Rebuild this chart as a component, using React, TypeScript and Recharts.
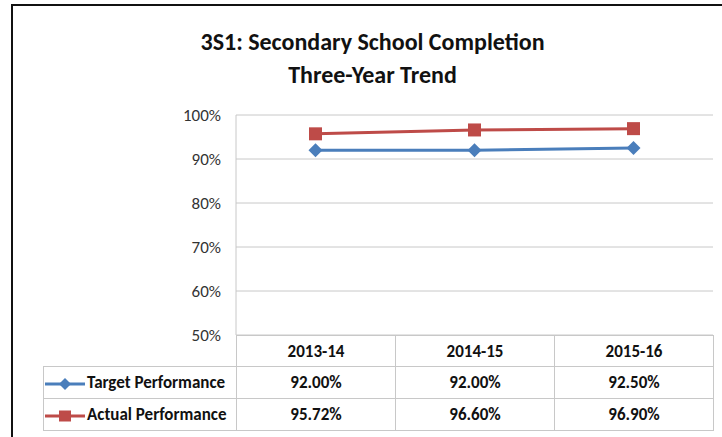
import { LineChart, Line, XAxis, YAxis, CartesianGrid } from 'recharts';

const categories = ['2013-14', '2014-15', '2015-16'];
const targetValues = [92.0, 92.0, 92.5];
const actualValues = [95.72, 96.6, 96.9];
const yTicks = [50, 60, 70, 80, 90, 100];

const seriesNames = { target: 'Target Performance', actual: 'Actual Performance' };

const data = categories.map((year, i) => ({
  year,
  target: targetValues[i],
  actual: actualValues[i],
}));

const FONT = "Carlito, 'Liberation Sans Narrow', Lato, 'Open Sans', sans-serif";
const BLUE = '#4a7ebb';
const RED = '#be4b48';
const GRID = '#c8c8c8';

const Diamond = (props: any) => {
  const { cx, cy } = props;
  if (cx == null || cy == null) return null;
  const r = 7;
  return <path d={`M${cx},${cy - r}L${cx + r},${cy}L${cx},${cy + r}L${cx - r},${cy}Z`} fill={BLUE} />;
};

const Square = (props: any) => {
  const { cx, cy } = props;
  if (cx == null || cy == null) return null;
  const s = 6.5;
  return <rect x={cx - s} y={cy - s} width={s * 2} height={s * 2} fill={RED} />;
};

const LegendKey = ({ kind }: { kind: 'target' | 'actual' }) => (
  <svg width={42} height={14} style={{ verticalAlign: 'middle', marginRight: 1 }}>
    <line x1={1} y1={7} x2={41} y2={7} stroke={kind === 'target' ? BLUE : RED} strokeWidth={3} />
    {kind === 'target'
      ? <path d="M21,1L27,7L21,13L15,7Z" fill={BLUE} />
      : <rect x={15} y={1.5} width={12} height={11} fill={RED} />}
  </svg>
);

const fmt = (v: number) => `${v.toFixed(2)}%`;

const cell: any = {
  border: `1px solid ${GRID}`,
  textAlign: 'center',
  fontWeight: 'bold',
  fontSize: 17,
  padding: 0,
  color: '#111',
  whiteSpace: 'nowrap',
  overflow: 'hidden',
};

const App = () => {
  return (
    <div style={{ position: 'absolute', left: 0, top: 0, width: 722, height: 437, background: '#fff', fontFamily: FONT, overflow: 'hidden' }}>
      <div style={{ position: 'absolute', left: 11, top: 4, width: 711, height: 2, background: '#111' }} />
      <div style={{ position: 'absolute', left: 11, top: 4, width: 2, height: 433, background: '#111' }} />

      <div style={{ position: 'absolute', left: 0, top: 25, width: 745, textAlign: 'center', fontWeight: 'bold', fontSize: 24, lineHeight: '33px', color: '#111' }}>
        3S1: Secondary School Completion<br />Three-Year Trend
      </div>

      <div style={{ position: 'absolute', left: 0, top: 0 }}>
        <LineChart
          width={722}
          height={437}
          data={data}
          margin={{ top: 115, right: 9, bottom: 102, left: 166 }}
        >
          <CartesianGrid vertical={false} stroke={GRID} />
          <XAxis dataKey="year" scale="band" hide />
          <YAxis
            type="number"
            domain={[50, 100]}
            ticks={yTicks}
            width={70}
            fontSize={17}
            tickFormatter={(v: number) => `${v}%`}
            tickLine={false}
            tickSize={0}
            tickMargin={15}
            axisLine={{ stroke: GRID }}
            tick={{ fill: '#333', fontSize: 17, fontFamily: FONT }}
          />
          <Line dataKey="target" name={seriesNames.target} stroke={BLUE} strokeWidth={3} dot={<Diamond />} activeDot={false} isAnimationActive={false} />
          <Line dataKey="actual" name={seriesNames.actual} stroke={RED} strokeWidth={3} dot={<Square />} activeDot={false} isAnimationActive={false} />
        </LineChart>
      </div>

      <table style={{ position: 'absolute', left: 43, top: 335, borderCollapse: 'collapse', tableLayout: 'fixed', width: 671 }}>
        <colgroup>
          <col style={{ width: 193 }} />
          {categories.map(c => <col key={c} style={{ width: 159 }} />)}
        </colgroup>
        <tbody>
          <tr style={{ height: 31 }}>
            <td style={{ ...cell, border: 'none', borderRight: `1px solid ${GRID}` }} />
            {categories.map(c => <td key={c} style={cell}>{c}</td>)}
          </tr>
          <tr style={{ height: 32 }}>
            <td style={{ ...cell, textAlign: 'left' }}><LegendKey kind="target" />{seriesNames.target}</td>
            {targetValues.map((v, i) => <td key={i} style={cell}>{fmt(v)}</td>)}
          </tr>
          <tr style={{ height: 32 }}>
            <td style={{ ...cell, textAlign: 'left' }}><LegendKey kind="actual" />{seriesNames.actual}</td>
            {actualValues.map((v, i) => <td key={i} style={cell}>{fmt(v)}</td>)}
          </tr>
        </tbody>
      </table>
    </div>
  );
};

export default App;
